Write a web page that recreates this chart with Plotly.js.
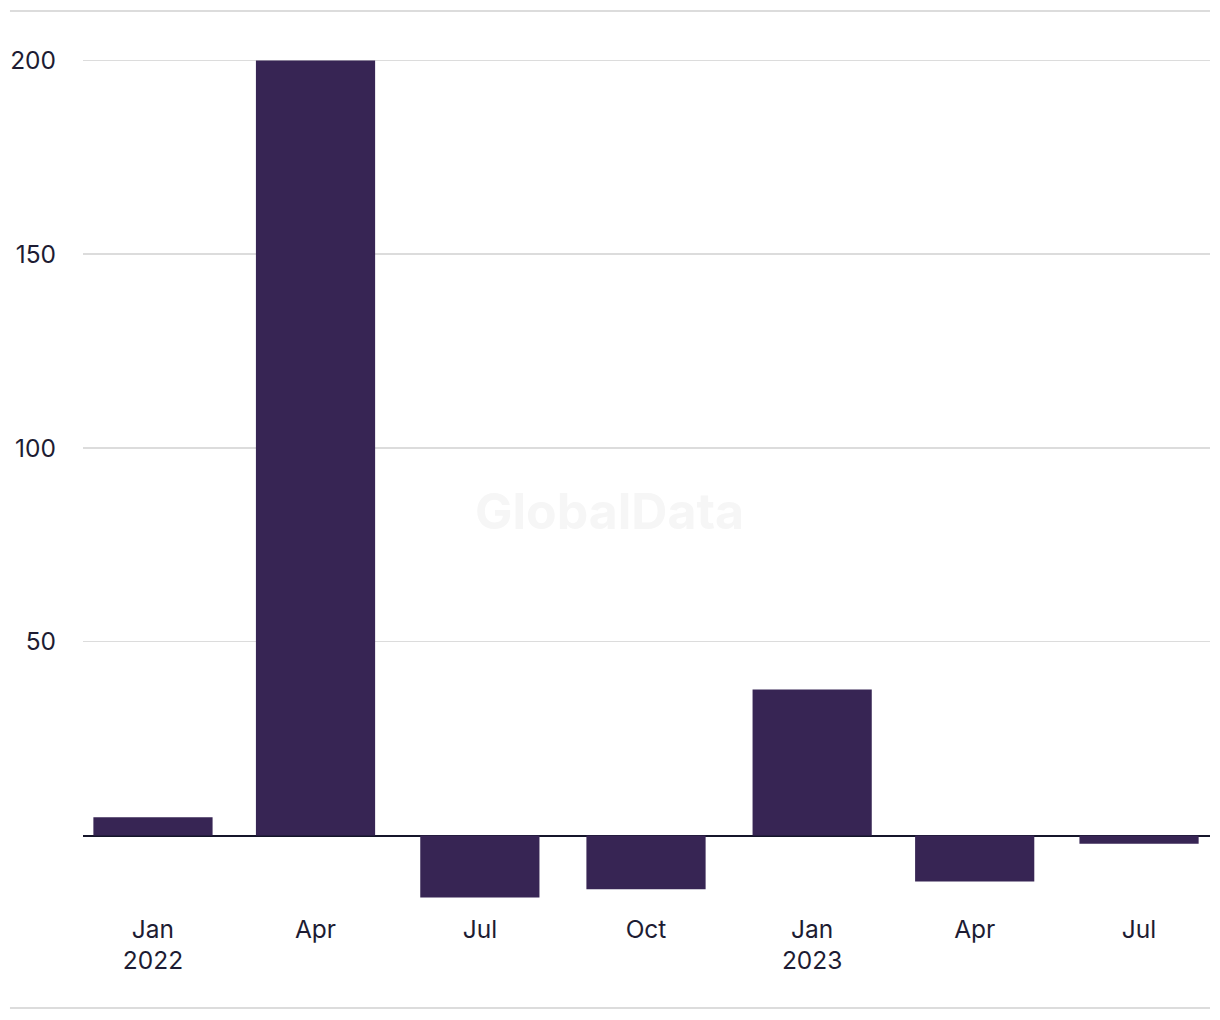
<!DOCTYPE html>
<html>
<head>
<meta charset="utf-8">
<script src="https://cdn.plot.ly/plotly-3.0.1.min.js"></script>
<style>
html,body{margin:0;padding:0;background:#fff;}
#chart{width:1220px;height:1020px;}
</style>
</head>
<body>
<div id="chart"></div>
<script>
// Data
var quarters = ['2022-01-01','2022-04-01','2022-07-01','2022-10-01','2023-01-01','2023-04-01','2023-07-01'];
var values = [4.7, 200, -16, -13.9, 37.7, -11.9, -2.1];
var tickLabels = ['Jan<br>2022','Apr','Jul','Oct','Jan<br>2023','Apr','Jul'];
var yTicks = [50, 100, 150, 200];

var DAY = 86400000;
var textColor = '#1d1c33';
var font = 'Inter, "Liberation Sans", Arial, sans-serif';

var trace = {
  type: 'bar',
  x: quarters,
  y: values,
  width: quarters.map(function(){ return 66 * DAY; }),
  marker: {color: '#372554', line: {width: 0}},
  hoverinfo: 'x+y'
};

var layout = {
  width: 1220,
  height: 1020,
  margin: {l: 83, r: 10, t: 12, b: 108, pad: 0},
  paper_bgcolor: '#ffffff',
  plot_bgcolor: '#ffffff',
  showlegend: false,
  font: {family: font, size: 24.5, color: textColor},
  xaxis: {
    type: 'date',
    range: ['2021-11-23 06:00', '2023-08-09 07:00'],
    tickvals: quarters,
    ticktext: tickLabels,
    showgrid: false,
    zeroline: false,
    showline: false,
    ticks: '',
    ticklabelstandoff: 0,
    tickfont: {family: font, size: 24.5, color: textColor},
    fixedrange: true
  },
  yaxis: {
    range: [-19.74, 212.5],
    tickvals: yTicks,
    ticktext: yTicks.map(String),
    showgrid: true,
    gridcolor: '#dcdcdc',
    gridwidth: 1.5,
    zeroline: true,
    zerolinecolor: '#15152a',
    zerolinewidth: 2,
    showline: false,
    ticks: '',
    ticklabelstandoff: 26,
    tickfont: {family: font, size: 24.5, color: textColor},
    fixedrange: true
  },
  shapes: [
    {type: 'line', xref: 'paper', yref: 'paper', x0: -0.0648, x1: 1, y0: 1.0011, y1: 1.0011,
     line: {color: '#dcdcdc', width: 2}},
    {type: 'line', xref: 'paper', yref: 'paper', x0: -0.0648, x1: 1, y0: -0.1067, y1: -0.1067,
     line: {color: '#dcdcdc', width: 2}}
  ],
  annotations: [
    {text: 'GlobalData', xref: 'paper', yref: 'paper', x: 0.4676, y: 0.445,
     showarrow: false, xanchor: 'center', yanchor: 'middle',
     font: {family: font, size: 50, color: '#f6f6f6', weight: 700}}
  ]
};

Plotly.newPlot('chart', [trace], layout, {displayModeBar: false, staticPlot: true});
</script>
</body>
</html>
